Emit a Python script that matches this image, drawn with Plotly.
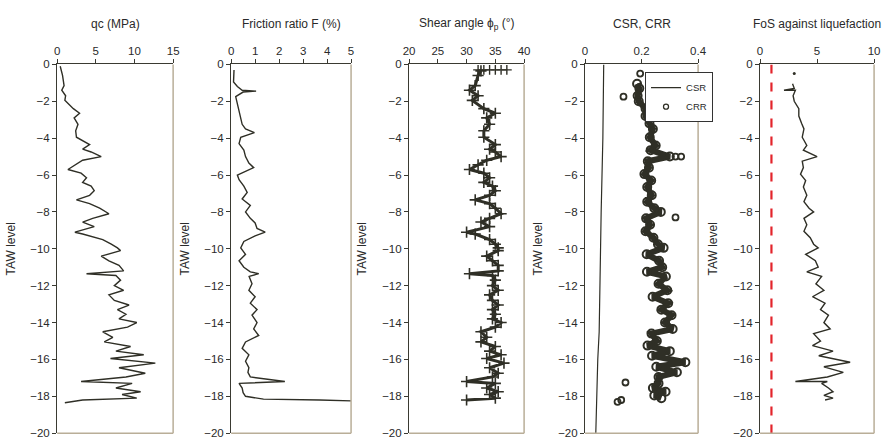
import plotly.graph_objects as go

# ---------------- data ----------------
qc_depth = [-0.1, -0.6, -1.15, -1.4, -1.7, -1.95, -2.4, -2.65, -2.9, -3.25, -3.6, -3.95, -4.35, -4.6,
            -4.75, -5.0, -5.2, -5.45, -5.7, -5.9, -6.15, -6.4, -6.6, -6.85, -7.1, -7.35, -7.55, -7.8,
            -8.1, -8.35, -8.55, -8.8, -9.1, -9.2, -9.5, -9.75, -9.95, -10.1, -10.4, -10.65, -10.9,
            -11.2, -11.35, -11.45, -11.7, -12.0, -12.25, -12.5, -12.8, -13.05, -13.3, -13.55, -13.8,
            -14.0, -14.25, -14.5, -14.8, -15.05, -15.3, -15.55, -15.75, -15.95, -16.2, -16.45, -16.75,
            -16.95, -17.2, -17.3, -17.55, -17.75, -17.9, -18.1, -18.2, -18.35]
qc_val = [0.4, 0.7, 0.9, 0.6, 1.1, 1.0, 2.1, 2.9, 2.2, 2.7, 2.4, 2.5, 4.2, 3.3,
          4.4, 5.7, 3.3, 2.3, 1.4, 3.1, 3.8, 3.3, 4.4, 4.8, 4.2, 2.5, 4.2, 5.5,
          6.7, 4.6, 3.3, 4.8, 2.3, 3.3, 5.9, 7.0, 7.8, 8.2, 5.7, 6.7, 8.0,
          8.6, 3.8, 7.6, 8.2, 7.4, 8.6, 6.7, 7.4, 9.3, 7.8, 8.9, 8.0,
          10.3, 9.1, 5.9, 7.2, 6.1, 9.5, 7.6, 11.2, 6.9, 12.7, 8.0, 11.4,
          8.9, 3.1, 9.7, 7.6, 10.8, 8.4, 10.3, 3.3, 1.0]

fr_depth = [-0.3, -0.45, -0.95, -1.2, -1.4, -1.45, -1.5, -1.75, -2.1, -2.55, -2.9, -3.25, -3.5, -3.7,
            -3.95, -4.3, -4.65, -5.0, -5.35, -5.6, -6.0, -6.25, -6.6, -6.95, -7.3, -7.65, -8.0,
            -8.35, -8.6, -8.9, -9.1, -9.3, -9.6, -9.95, -10.3, -10.65, -11.0, -11.25, -11.35, -11.5,
            -11.9, -12.25, -12.6, -12.95, -13.3, -13.6, -14.0, -14.35, -14.7, -15.05, -15.4, -15.75,
            -16.1, -16.45, -16.7, -16.95, -17.2, -17.3, -17.55, -17.8, -18.0, -18.15, -18.2, -18.25]
fr_val = [0.12, 0.12, 0.1, 0.26, 0.46, 1.04, 0.5, 0.19, 0.26, 0.33, 0.4, 0.46, 0.6, 0.97,
          0.4, 0.33, 0.53, 0.6, 0.74, 0.94, 0.26, 0.33, 0.53, 0.67, 0.46, 0.8, 0.6,
          0.8, 1.0, 1.08, 1.42, 1.0, 0.53, 0.4, 0.6, 0.33, 0.53, 0.8, 1.15, 0.75,
          0.87, 0.74, 1.0, 0.8, 1.08, 0.87, 1.08, 0.94, 1.15, 0.6, 0.46, 0.74,
          0.6, 0.74, 0.7, 0.8, 2.24, 0.33, 0.46, 0.5, 0.6, 1.35, 3.7, 5.0]

phi_top_depth = [-0.3, -0.3, -0.3, -0.3, -0.3, -0.3]
phi_top_val = [32.0, 33.0, 34.0, 35.0, 36.0, 37.0]
phi_depth = [-0.35, -0.6, -1.15, -1.4, -1.7, -1.95, -2.4, -2.65, -2.9, -3.25, -3.6, -3.95, -4.35, -4.6,
             -4.75, -5.0, -5.2, -5.45, -5.7, -5.9, -6.15, -6.4, -6.6, -6.85, -7.1, -7.35, -7.55, -7.8,
             -8.1, -8.35, -8.55, -8.8, -9.1, -9.2, -9.5, -9.75, -9.95, -10.1, -10.4, -10.65, -10.9,
             -11.2, -11.35, -11.45, -11.7, -12.0, -12.25, -12.5, -12.8, -13.05, -13.3, -13.55, -13.8,
             -14.0, -14.25, -14.5, -14.8, -15.05, -15.3, -15.55, -15.75, -15.95, -16.2, -16.45, -16.75,
             -16.95, -17.2, -17.3, -17.55, -17.75, -17.9, -18.1, -18.2]
phi_val = [32.5, 32.0, 31.5, 30.5, 32.0, 31.0, 33.0, 35.0, 33.5, 34.0, 33.0, 33.0, 35.0, 34.0,
           35.0, 36.0, 33.5, 32.0, 30.5, 33.0, 34.0, 33.0, 34.5, 35.0, 34.0, 31.5, 34.0, 35.0,
           36.0, 34.0, 32.5, 34.0, 30.0, 31.5, 34.0, 35.0, 35.5, 35.5, 33.5, 34.5, 35.5,
           35.5, 30.5, 34.5, 35.0, 34.5, 35.5, 34.0, 34.5, 35.5, 34.5, 35.0, 34.5,
           36.0, 35.0, 32.5, 33.5, 32.5, 35.0, 34.0, 36.0, 33.5, 36.5, 34.0, 35.5,
           34.5, 30.0, 35.0, 33.5, 35.5, 34.0, 35.0, 30.0]

csr_depth = [0.0, -4.0, -8.0, -12.0, -14.5, -16.0, -17.5, -20.0]
csr_val = [0.066, 0.063, 0.057, 0.052, 0.050, 0.045, 0.043, 0.038]

crr_depth = [-1.05, -1.3, -1.7, -2.0, -2.4, -2.8, -3.2, -3.5, -3.95, -4.4, -4.65, -5.0,
             -5.25, -5.6, -5.95, -6.3, -6.65, -7.1, -7.45, -7.8, -8.0, -8.35, -8.7, -9.05, -9.4,
             -9.75, -9.95, -10.3, -10.65, -11.0, -11.25, -11.5, -11.9, -12.25, -12.6, -12.95,
             -13.3, -13.6, -14.0, -14.35, -14.6, -15.0, -15.25, -15.55, -15.8, -16.15, -16.4,
             -16.7, -16.95, -17.3, -17.55, -17.75, -17.95, -18.1]
crr_val = [0.184, 0.192, 0.186, 0.19, 0.214, 0.214, 0.228, 0.24, 0.229, 0.25, 0.232, 0.30,
           0.222, 0.226, 0.21, 0.234, 0.22, 0.236, 0.22, 0.245, 0.268, 0.216, 0.23, 0.214, 0.242,
           0.258, 0.278, 0.218, 0.262, 0.273, 0.219, 0.286, 0.26, 0.291, 0.239, 0.294,
           0.27, 0.306, 0.283, 0.31, 0.235, 0.254, 0.221, 0.30, 0.237, 0.355, 0.252,
           0.325, 0.26, 0.26, 0.24, 0.285, 0.245, 0.27]
crr_out_depth = [-0.5, -1.75, -5.0, -5.0, -8.3, -17.25, -18.2, -18.3]
crr_out_val = [0.195, 0.136, 0.32, 0.34, 0.32, 0.143, 0.128, 0.115]

fos_depth = [-1.05, -1.3, -1.4, -1.4, -1.7, -2.0, -2.4, -2.8, -3.2, -3.5, -3.95, -4.4, -4.65, -5.0,
             -5.25, -5.6, -5.95, -6.3, -6.65, -7.1, -7.45, -7.8, -8.0, -8.35, -8.7, -9.05, -9.4,
             -9.75, -9.95, -10.3, -10.65, -11.0, -11.25, -11.5, -11.9, -12.25, -12.6, -12.95,
             -13.3, -13.6, -14.0, -14.35, -14.6, -15.0, -15.25, -15.55, -15.8, -16.15, -16.4,
             -16.7, -16.95, -17.2, -17.2, -17.3, -17.55, -17.75, -17.95, -18.1, -18.2]
fos_val = [2.85, 3.0, 2.1, 3.1, 2.9, 3.0, 3.4, 3.4, 3.65, 3.85, 3.7, 4.1, 3.8, 5.0,
           3.7, 3.8, 3.55, 4.0, 3.8, 4.1, 3.85, 4.3, 4.7, 3.85, 4.1, 3.85, 4.4,
           4.7, 5.1, 4.0, 4.85, 5.1, 4.1, 5.4, 4.9, 5.6, 4.6, 5.7,
           5.3, 6.0, 5.6, 6.15, 4.7, 5.3, 4.6, 6.4, 5.15, 7.9, 5.6,
           7.3, 5.9, 3.1, 5.9, 5.4, 6.0, 6.4, 5.6, 6.4, 5.7]
fos_dot_depth = [-0.5]
fos_dot_val = [3.0]

fos_limit = 1.0

titles = ["qc (MPa)", "Friction ratio F (%)", "Shear angle \u03d5<sub>p</sub> (\u00b0)",
          "CSR, CRR", "FoS against liquefaction"]
x_ranges = [[0, 15], [0, 5], [20, 40], [0, 0.4], [0, 10]]
x_dticks = [5, 1, 5, 0.2, 5]

# ---------------- layout helpers ----------------
W, H = 888, 446
panels_px = [(52, 170), (229, 351), (410, 527), (589, 704), (767, 883)]
top_px, bot_px = 60, 439
ydom = [1 - bot_px / H, 1 - top_px / H]

DARK = "#2f2f26"
AXC = "#3a3a32"
TAN = "#b9ae98"
TXT = "#2a2a2a"
FONT = "Liberation Sans, Arial, sans-serif"

fig = go.Figure()

def ax(i):
    return ("x" if i == 0 else f"x{i+1}"), ("y" if i == 0 else f"y{i+1}")

# qc
xa, ya = ax(0)
fig.add_trace(go.Scatter(x=qc_val, y=qc_depth, mode="lines", line=dict(color=DARK, width=1.4),
                         xaxis=xa, yaxis=ya, showlegend=False))
# friction ratio
xa, ya = ax(1)
fig.add_trace(go.Scatter(x=fr_val, y=fr_depth, mode="lines", line=dict(color=DARK, width=1.4),
                         xaxis=xa, yaxis=ya, showlegend=False))
# shear angle
xa, ya = ax(2)
fig.add_trace(go.Scatter(x=phi_val, y=phi_depth, mode="lines+markers",
                         line=dict(color=DARK, width=3),
                         marker=dict(symbol="cross-thin-open", size=8, color=DARK,
                                     line=dict(color=DARK, width=1.6)),
                         xaxis=xa, yaxis=ya, showlegend=False))
fig.add_trace(go.Scatter(x=phi_top_val, y=phi_top_depth, mode="markers",
                         marker=dict(symbol="cross-thin-open", size=7, color=DARK,
                                     line=dict(color=DARK, width=1.4)),
                         xaxis=xa, yaxis=ya, showlegend=False))
# CSR / CRR
xa, ya = ax(3)
fig.add_trace(go.Scatter(x=csr_val, y=csr_depth, mode="lines", line=dict(color=DARK, width=1.2),
                         xaxis=xa, yaxis=ya, name="CSR", showlegend=True))
fig.add_trace(go.Scatter(x=crr_val, y=crr_depth, mode="lines+markers",
                         line=dict(color=DARK, width=6),
                         marker=dict(symbol="circle-open", size=8, color=DARK,
                                     line=dict(color=DARK, width=2)),
                         xaxis=xa, yaxis=ya, name="CRR", showlegend=False))
fig.add_trace(go.Scatter(x=crr_out_val, y=crr_out_depth, mode="markers",
                         marker=dict(symbol="circle-open", size=6, color=DARK,
                                     line=dict(color=DARK, width=1.8)),
                         xaxis=xa, yaxis=ya, name="CRR", showlegend=False))
fig.add_trace(go.Scatter(x=[None], y=[None], mode="markers",
                         marker=dict(symbol="circle-open", size=5, color=DARK,
                                     line=dict(color=DARK, width=1.3)),
                         xaxis=xa, yaxis=ya, name="CRR", showlegend=True))
# FoS
xa, ya = ax(4)
fig.add_trace(go.Scatter(x=[fos_limit, fos_limit], y=[0, -20], mode="lines",
                         line=dict(color="#e3242b", width=2.2, dash="dash"),
                         xaxis=xa, yaxis=ya, showlegend=False))
fig.add_trace(go.Scatter(x=fos_val, y=fos_depth, mode="lines", line=dict(color=DARK, width=1.4),
                         xaxis=xa, yaxis=ya, showlegend=False))
fig.add_trace(go.Scatter(x=fos_dot_val, y=fos_dot_depth, mode="markers",
                         marker=dict(color=DARK, size=3),
                         xaxis=xa, yaxis=ya, showlegend=False))

layout = dict(width=W, height=H, margin=dict(l=0, r=0, t=0, b=0),
              paper_bgcolor="white", plot_bgcolor="white",
              font=dict(family=FONT, size=11, color=TXT),
              showlegend=True,
              legend=dict(x=650 / W, y=1 - 68 / H, xanchor="left", yanchor="top",
                          bgcolor="white", bordercolor="#333333", borderwidth=1,
                          font=dict(size=9.5, color=TXT), itemwidth=30,
                          tracegroupgap=0))
shapes = []
annotations = []
for i, (a, b) in enumerate(panels_px):
    xk = "xaxis" if i == 0 else f"xaxis{i+1}"
    yk = "yaxis" if i == 0 else f"yaxis{i+1}"
    xa, ya = ax(i)
    layout[xk] = dict(domain=[a / W, b / W], anchor=ya, side="top", range=x_ranges[i],
                      dtick=x_dticks[i], tick0=0, ticks="outside", ticklen=4, tickcolor=AXC,
                      showline=True, linecolor=AXC, linewidth=1.2, showgrid=False,
                      zeroline=False, tickfont=dict(size=11.5, color=TXT), fixedrange=True)
    layout[yk] = dict(domain=ydom, anchor=xa, range=[-20, 0], dtick=2, ticks="outside",
                      ticklen=4, tickcolor=AXC, showline=True, linecolor=AXC, linewidth=1.2,
                      showgrid=False, zeroline=False, tickfont=dict(size=11.5, color=TXT),
                      title=dict(text="TAW level", font=dict(size=12, color=TXT), standoff=12))
    shapes.append(dict(type="line", xref=f"{xa} domain", yref=f"{ya} domain", x0=1, x1=1, y0=0, y1=1,
                       line=dict(color=TAN, width=1.5)))
    shapes.append(dict(type="line", xref=f"{xa} domain", yref=f"{ya} domain", x0=0, x1=1, y0=0, y1=0,
                       line=dict(color=TAN, width=1.5)))
    annotations.append(dict(text=titles[i], xref="paper", yref="paper", x=(a + b) / 2 / W,
                            y=1 - 18 / H, xanchor="center", yanchor="middle", showarrow=False,
                            font=dict(size=12, color=TXT)))
layout["shapes"] = shapes
layout["annotations"] = annotations
fig.update_layout(**layout)
fig.write_html("out.html")
